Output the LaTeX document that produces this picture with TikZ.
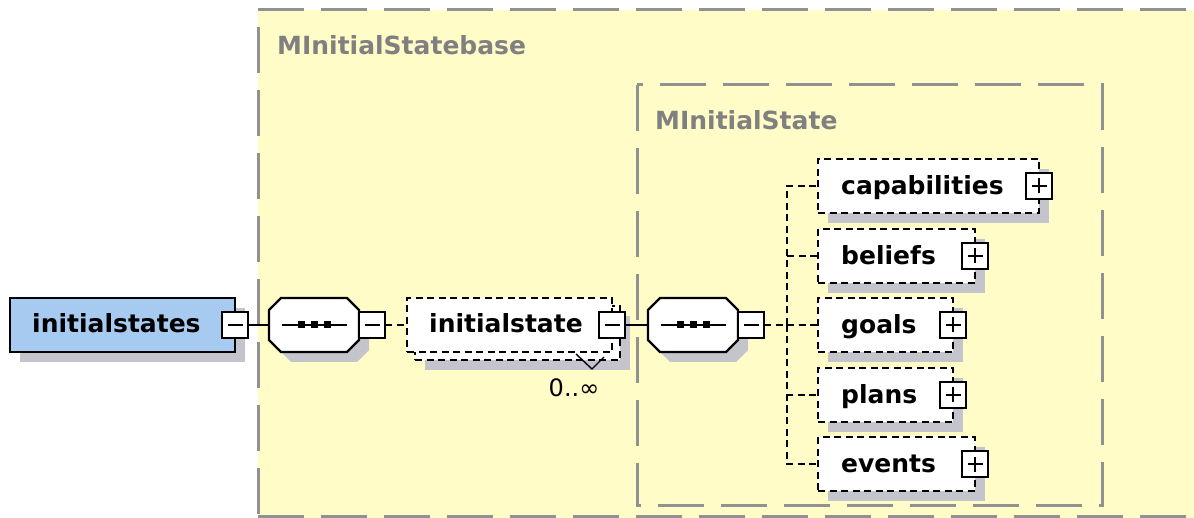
\documentclass[tikz,border=0pt]{standalone}
\usepackage{fontspec}
\setmainfont{DejaVu Sans}
\pgfdeclarelayer{bglayer}
\pgfdeclarelayer{shlayer}
\pgfsetlayers{bglayer,shlayer,main}
\definecolor{bgyellow}{RGB}{255,252,200}
\definecolor{elblue}{RGB}{166,202,240}
\definecolor{shadowc}{RGB}{196,196,204}
\definecolor{bordergray}{RGB}{145,145,145}
\definecolor{labelgray}{RGB}{128,128,128}
\tikzset{
  hframe/.style={draw=bordergray, line width=3pt, dash pattern=on 46pt off 17pt},
  boxshape/.style={rectangle, inner sep=0pt, outer sep=0pt, minimum height=54pt, anchor=west},
  solidbox/.style={boxshape, draw=black, line width=2.2pt, fill=elblue},
  dashbox/.style={boxshape, draw=black, line width=2.2pt, fill=white, dash pattern=on 7pt off 4.5pt},
  ctrl/.style={rectangle, draw=black, line width=2.2pt, fill=white, minimum size=26pt, inner sep=0pt, outer sep=0pt},
  signline/.style={draw=black, line width=1.8pt},
  elabel/.style={font=\fontsize{25pt}{30pt}\selectfont\bfseries, anchor=base west, inner sep=0pt},
  glabel/.style={elabel, text=labelgray},
  shadowfill/.style={fill=shadowc},
  solidcon/.style={draw=black, line width=2.2pt},
  dashcon/.style={draw=black, line width=2.2pt, dash pattern=on 7pt off 4.5pt},
  seqnode/.style={rectangle, minimum width=90pt, minimum height=54pt, inner sep=0pt, outer sep=0pt},
  seqdot/.style={rectangle, fill=black, minimum size=7pt, inner sep=0pt},
}
\newcommand{\drawoct}[2]{%
  \path[#2] ([shift={(12,0)}]#1.north west) -- ([shift={(-12,0)}]#1.north east)
    -- ([shift={(0,12)}]#1.north east) -- ([shift={(0,-12)}]#1.south east)
    -- ([shift={(-12,0)}]#1.south east) -- ([shift={(12,0)}]#1.south west)
    -- ([shift={(0,-12)}]#1.south west) -- ([shift={(0,12)}]#1.north west) -- cycle;}
\newcommand{\ctlminus}[1]{\draw[signline] ([xshift=-7.5pt]#1.center) -- ([xshift=7.5pt]#1.center);}
\newcommand{\ctlplus}[1]{\draw[signline] ([xshift=-7.5pt]#1.center) -- ([xshift=7.5pt]#1.center);
  \draw[signline] ([yshift=-7.5pt]#1.center) -- ([yshift=7.5pt]#1.center);}
\newcommand{\seqinner}[1]{%
  \draw[signline, line width=2pt] ([xshift=-32pt]#1.center) -- ([xshift=33pt]#1.center);
  \node[seqdot] (#1d1) at ([xshift=-13pt]#1.center) {};
  \node[seqdot] (#1d2) at (#1.center) {};
  \node[seqdot] (#1d3) at ([xshift=13pt]#1.center) {};}
\begin{document}
\begin{tikzpicture}[x=1pt,y=-1pt]
\useasboundingbox (0,0) rectangle (1194,518);
% ---------- frames ----------
\begin{pgfonlayer}{bglayer}
  \fill[bgyellow] (258,10) rectangle (1194,518);
  \draw[hframe] (258,10) -- (1194,10);
  \draw[hframe, dash phase=46pt] (258,10) -- (258,516);
  \draw[hframe] (258,516) -- (1194,516);
  \draw[hframe] (637,85) rectangle (1102,505);
\end{pgfonlayer}
\node[glabel] (lbase) at (277,55) {MInitialStatebase};
\node[glabel] (lstate) at (655,130) {MInitialState};
% ---------- initialstates ----------
\node[solidbox, minimum width=225pt] (root) at (10,325) {};
\begin{pgfonlayer}{shlayer}
  \fill[shadowfill] ([shift={(10,10)}]root.north west) rectangle ([shift={(10,10)}]root.south east);
\end{pgfonlayer}
\node[elabel] (roott) at ([shift={(22,8)}]root.west) {initialstates};
\node[ctrl] (m0) at (root.east) {};
\ctlminus{m0}
% ---------- first sequence ----------
\node[seqnode] (seq1) at (314,325) {};
\node[seqnode] (seq1sh) at ([shift={(10,10)}]seq1.center) {};
\begin{pgfonlayer}{shlayer}
  \drawoct{seq1sh}{shadowfill}
\end{pgfonlayer}
\drawoct{seq1}{draw=black, line width=2.2pt, fill=white}
\seqinner{seq1}
\node[ctrl, anchor=west] (m1) at (seq1.east) {};
\ctlminus{m1}
\draw[solidcon] (m0.east) -- (seq1.west);
% ---------- initialstate (repeated) ----------
\node[dashbox, minimum width=205pt] (isback) at (415,333) {};
\begin{pgfonlayer}{shlayer}
  \fill[shadowfill] ([shift={(10,10)}]isback.north west) rectangle ([shift={(10,10)}]isback.south east);
\end{pgfonlayer}
\draw[black, line width=1.4pt] (576,354) -- (592,369) -- (604,357);
\node[dashbox, minimum width=205pt] (is) at (407,325) {};
\node[elabel] (ist) at ([shift={(22,8)}]is.west) {initialstate};
\node[ctrl] (m2) at (is.east) {};
\ctlminus{m2}
\node[font=\fontsize{24pt}{28pt}\selectfont, anchor=base, inner sep=0pt] (mult) at (574,396) {0..∞};
\draw[dashcon] (m1.east) -- (is.west);
% ---------- second sequence ----------
\node[seqnode] (seq2) at (693,325) {};
\node[seqnode] (seq2sh) at ([shift={(10,10)}]seq2.center) {};
\begin{pgfonlayer}{shlayer}
  \drawoct{seq2sh}{shadowfill}
\end{pgfonlayer}
\drawoct{seq2}{draw=black, line width=2.2pt, fill=white}
\seqinner{seq2}
\node[ctrl, anchor=west] (m3) at (seq2.east) {};
\ctlminus{m3}
\draw[solidcon] (m2.east) -- (seq2.west);
\coordinate (bus) at (787,325);
\draw[dashcon] (m3.east) -- (bus);
% ---------- children ----------
\foreach \nm/\txt/\w/\yy in {cap/capabilities/221/186, bel/beliefs/157/256, goa/goals/135/325, pla/plans/135/395, eve/events/157/464}{
  \node[dashbox, minimum width=\w pt] (\nm) at (818,\yy) {};
  \begin{pgfonlayer}{shlayer}
    \fill[shadowfill] ([shift={(10,10)}]\nm.north west) rectangle ([shift={(10,10)}]\nm.south east);
  \end{pgfonlayer}
  \node[elabel] (\nm t) at ([shift={(23,8.5)}]\nm.west) {\txt};
  \node[ctrl] (\nm p) at (\nm.east) {};
  \ctlplus{\nm p}
  \draw[dashcon] (bus) |- (\nm.west);
}
\end{tikzpicture}
\end{document}
